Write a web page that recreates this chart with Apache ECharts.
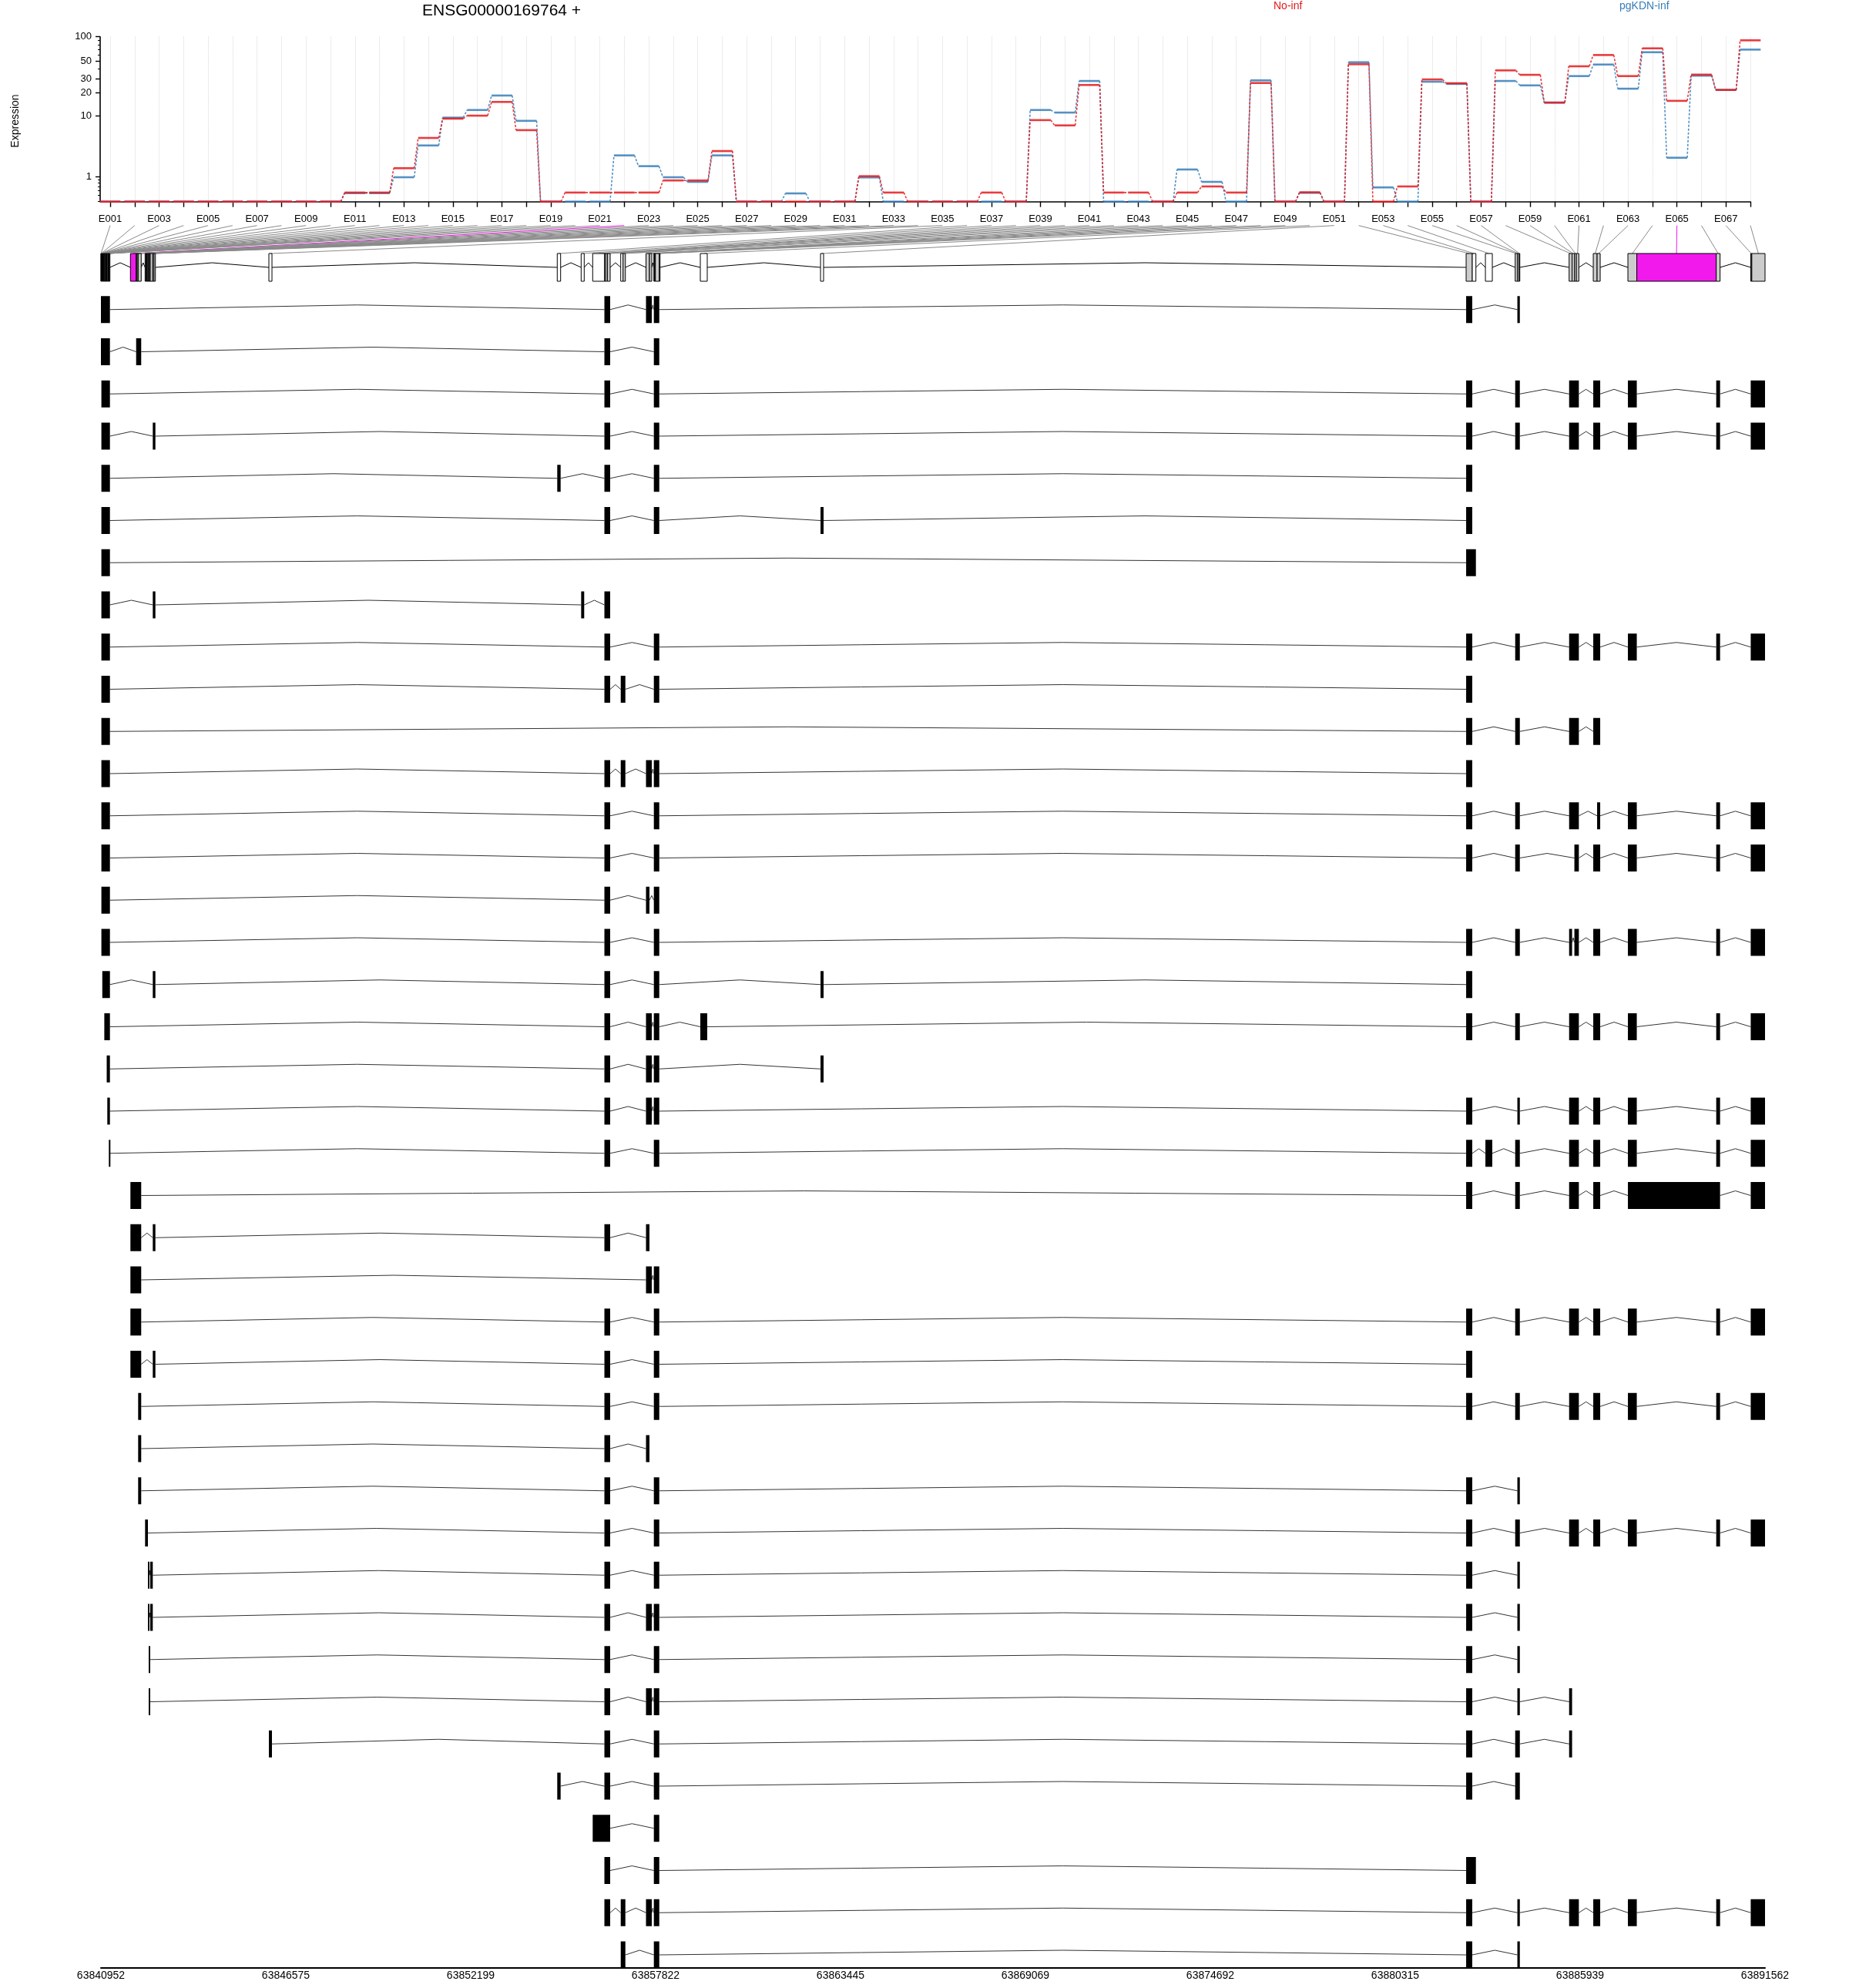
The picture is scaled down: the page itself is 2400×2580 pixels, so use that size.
<!DOCTYPE html>
<html><head><meta charset="utf-8">
<script src="https://cdn.jsdelivr.net/npm/echarts@6/dist/echarts.min.js"></script>
<style>html,body{margin:0;padding:0;background:#fff}#c{width:2400px;height:2580px}</style>
</head><body><div id="c"></div>
<script>
// ---------- DATA ----------
const exonLabels = ['E001','E002','E003','E004','E005','E006','E007','E008','E009','E010',
'E011','E012','E013','E014','E015','E016','E017','E018','E019','E020','E021','E022','E023','E024','E025',
'E026','E027','E028','E029','E030','E031','E032','E033','E034','E035','E036','E037','E038','E039','E040',
'E041','E042','E043','E044','E045','E046','E047','E048','E049','E050','E051','E052','E053','E054','E055',
'E056','E057','E058','E059','E060','E061','E062','E063','E064','E065','E066','E067','E068'];

const noInf = [0,0,0,0,0,0,0,0,0,0,
0.29,0.29,1.55,4.95,9.2,10.1,15.3,6.4,0,0.29,
0.29,0.29,0.29,0.81,0.81,3.12,0,0,0,0,
0,1.04,0.29,0,0,0,0.29,0,8.8,7.45,
25.2,0.29,0.29,0,0.29,0.53,0.29,26.7,0,0.3,
0,45.8,0,0.53,29.6,26.5,0,38.4,33.8,15.0,
43.2,59.6,32.6,72,15.8,34,21.8,90.4];

const pgKDN = [0,0,0,0,0,0,0,0,0,0,
0.27,0.27,0.98,3.82,9.5,12.0,18.5,8.6,0,0,
0,2.65,1.70,0.98,0.74,2.65,0,0,0.26,0,
0,0.97,0,0,0,0,0,0,12.0,11.1,
28.3,0,0,0,1.46,0.74,0,28.8,0,0.28,
0,48.5,0.49,0,27.7,26.0,0,28.3,24.9,15.0,
32.6,45.4,22.6,64.5,2.42,33,21.8,69.5];

// genomic extent of each exonic part
const exonBins = [
[63840952,63840959],[63840959,63840966],[63840966,63840973],[63840973,63840980],[63840980,63840987],
[63840987,63840994],[63840994,63841001],[63841001,63841008],[63841008,63841015],[63841015,63841022],
[63841022,63841029],[63841029,63841036],[63841036,63841055],[63841055,63841086],[63841086,63841107],
[63841107,63841128],[63841128,63841146],[63841146,63841175],[63841175,63841193],[63841193,63841210],
[63841210,63841226],[63841849,63842023],[63842023,63842053],[63842053,63842084],[63842084,63842177],
[63842295,63842323],[63842323,63842351],[63842351,63842381],[63842381,63842405],[63842405,63842428],
[63842428,63842452],[63842452,63842529],[63842529,63842569],[63842569,63842609],[63846060,63846154],
[63854830,63854933],[63855557,63855650],[63855908,63856264],[63856264,63856306],[63856306,63856358],
[63856358,63856440],[63856761,63856831],[63856831,63856902],[63857529,63857635],[63857635,63857705],
[63857768,63857792],[63857792,63857815],[63857815,63857933],[63857933,63857956],[63859181,63859392],
[63862837,63862930],[63882472,63882659],[63882659,63882769],[63883058,63883268],[63883964,63884030],
[63884030,63884077],[63884077,63884105],[63885604,63885694],[63885694,63885764],[63885764,63885822],
[63885822,63885900],[63886338,63886455],[63886455,63886549],[63887392,63887662],[63887662,63890078],
[63890078,63890195],[63891127,63891160],[63891160,63891562]];

// t = tested, n = not tested, s = significant
const binStatus = ['t','t','t','t','t','t','t','t','t','t','t','t',
't','t','t','t','t','n','n','n','n','s','t','t','t',
't','t','t','t','t','t','t','n','n','n','n','n','n',
't','t','t','n','t','t','t','t','t','t','t','n','n',
't','n','n','t','t','t','t','t','t','t','t','t','t','s','t','t','t'];

// transcripts: lists of [first exonic part, last exonic part]
const transcripts = [
[[1,21],[39,41],[44,45],[46,48],[52,52],[56,57]],
[[1,21],[23,25],[39,41],[46,48]],
[[3,21],[39,41],[46,48],[52,52],[55,57],[58,61],[62,63],[64,64],[66,66],[67,68]],
[[3,21],[33,34],[39,41],[46,48],[52,52],[55,57],[58,61],[62,63],[64,64],[66,66],[67,68]],
[[3,21],[36,36],[39,41],[46,48],[52,52]],
[[3,21],[39,41],[46,48],[51,51],[52,52]],
[[3,21],[52,53]],
[[3,21],[33,34],[37,37],[39,41]],
[[3,21],[39,41],[46,48],[52,52],[55,57],[58,61],[62,63],[64,64],[66,66],[67,68]],
[[3,21],[39,41],[42,43],[46,48],[52,52]],
[[3,21],[52,52],[55,57],[58,61],[62,63]],
[[3,21],[39,41],[42,43],[44,45],[46,48],[52,52]],
[[3,21],[39,41],[46,48],[52,52],[55,57],[58,61],[63,63],[64,64],[66,66],[67,68]],
[[3,21],[39,41],[46,48],[52,52],[55,57],[60,61],[62,63],[64,64],[66,66],[67,68]],
[[3,21],[39,41],[44,44],[46,48]],
[[3,21],[39,41],[46,48],[52,52],[55,57],[58,58],[60,61],[62,63],[64,64],[66,66],[67,68]],
[[7,21],[33,34],[39,41],[46,48],[51,51],[52,52]],
[[14,21],[39,41],[44,45],[46,48],[50,50],[52,52],[55,57],[58,61],[62,63],[64,64],[66,66],[67,68]],
[[17,21],[39,41],[44,45],[46,48],[51,51]],
[[18,21],[39,41],[44,45],[46,48],[52,52],[56,57],[58,61],[62,63],[64,64],[66,66],[67,68]],
[[20,21],[39,41],[46,48],[52,52],[54,54],[55,57],[58,61],[62,63],[64,64],[66,66],[67,68]],
[[22,25],[52,52],[55,57],[58,61],[62,63],[64,66],[67,68]],
[[22,25],[33,34],[39,41],[44,44]],
[[22,25],[44,45],[46,48]],
[[22,25],[39,41],[46,48],[52,52],[55,57],[58,61],[62,63],[64,64],[66,66],[67,68]],
[[22,25],[33,34],[39,41],[46,48],[52,52]],
[[25,25],[39,41],[46,48],[52,52],[55,57],[58,61],[62,63],[64,64],[66,66],[67,68]],
[[25,25],[39,41],[44,44]],
[[25,25],[39,41],[46,48],[52,52],[56,57]],
[[26,28],[39,41],[46,48],[52,52],[55,57],[58,61],[62,63],[64,64],[66,66],[67,68]],
[[29,30],[32,32],[39,41],[46,48],[52,52],[56,57]],
[[29,30],[32,32],[39,41],[44,45],[46,48],[52,52],[56,57]],
[[30,31],[39,41],[46,48],[52,52],[56,57]],
[[30,31],[39,41],[44,45],[46,48],[52,52],[56,57],[58,58]],
[[35,35],[39,41],[46,48],[52,52],[55,57],[58,58]],
[[36,36],[39,41],[46,48],[52,52],[55,57]],
[[38,41],[46,48]],
[[39,41],[46,48],[52,53]],
[[39,41],[42,43],[44,45],[46,48],[52,52],[56,57],[58,61],[62,63],[64,64],[66,66],[67,68]],
[[42,43],[46,48],[52,52],[56,57]]
];

const genomicTicks = [63840952,63846575,63852199,63857822,63863445,63869069,63874692,63880315,63885939,63891562];
const yTickLabels = [1,10,20,30,50,100];
const yMinorTicks = [0,0.2,0.37,0.53,0.7,0.86,40,60,70,80,90];
const geneTitle = 'ENSG00000169764 +';
const groupNames = ['No-inf','pgKDN-inf'];

// ---------- CHART ----------
const FONT = 'Liberation Sans';
const RED = '#E41A1C', BLUE = '#377EB8';
const statusCode = {t:0, n:1, s:2};
const statusFill = ['#CCCCCC', '#FFFFFF', '#F219ED'];
const tr = v => Math.log10(v + 1);
const YMAX = Math.log10(101);

function stepData(vals){
  return vals.map((v,i)=>[i+1, tr(v), i < vals.length-1 ? tr(vals[i+1]) : NaN]);
}
function stepRender(color){
  return function(params, api){
    const i = api.value(0), y = api.value(1), yn = api.value(2);
    const a = api.coord([i-0.42, y]), b = api.coord([i+0.42, y]);
    const ch = [{type:'line', shape:{x1:a[0],y1:a[1],x2:b[0],y2:b[1]}, style:{stroke:color, lineWidth:2.6, opacity:0.85}}];
    if (!isNaN(yn)) {
      const c = api.coord([i+1-0.42, yn]);
      ch.push({type:'line', shape:{x1:b[0],y1:b[1],x2:c[0],y2:c[1]}, style:{stroke:color, lineWidth:1.6, lineDash:[3,2], opacity:0.85}});
    }
    return {type:'group', children:ch};
  };
}

// gene model bins and introns
const binData = exonBins.map((b,i)=>[b[0], b[1], 0, statusCode[binStatus[i]]]);
const geneIntrons = [];
for (let i=0;i<exonBins.length-1;i++){
  if (exonBins[i+1][0] > exonBins[i][1]) geneIntrons.push([exonBins[i][1], exonBins[i+1][0], 0]);
}
const txExons = [], txIntrons = [];
transcripts.forEach((t,k)=>{
  const row = k+1;
  const ex = t.map(p=>[exonBins[p[0]-1][0], exonBins[p[1]-1][1]]);
  ex.forEach((e,j)=>{
    txExons.push([e[0], e[1], row]);
    if (j < ex.length-1) txIntrons.push([e[1], ex[j+1][0], row]);
  });
});

function rectRender(fillFn, h, stroke){
  return function(params, api){
    const s = api.value(0), e = api.value(1), r = api.value(2);
    const p1 = api.coord([s, r]), p2 = api.coord([e, r]);
    const w = Math.max(p2[0]-p1[0], stroke ? 0.3 : 2);
    return {type:'rect', shape:{x:p1[0], y:p1[1]-h/2, width:w, height:h},
      style: stroke ? {fill:fillFn(api), stroke:'#000', lineWidth:1} : {fill:fillFn(api)}};
  };
}
function caretRender(h, color){
  return function(params, api){
    const s = api.value(0), e = api.value(1), r = api.value(2);
    const p1 = api.coord([s, r]), p2 = api.coord([e, r]);
    return {type:'polyline', shape:{points:[[p1[0],p1[1]],[(p1[0]+p2[0])/2,p1[1]-h],[p2[0],p2[1]]]},
      style:{stroke:color, lineWidth:1, fill:null}};
  };
}

const chart = echarts.init(document.getElementById('c'), null, {renderer:'canvas'});
const option = {
  animation:false,
  backgroundColor:'#fff',
  textStyle:{fontFamily:FONT},
  title:{text:geneTitle, left:548, top:4, padding:0, textStyle:{fontSize:21, fontWeight:'normal', color:'#000', fontFamily:FONT}},
  graphic:[
    {type:'text', left:1653, top:1, style:{text:groupNames[0], fill:RED, fontSize:14, fontFamily:FONT}},
    {type:'text', left:2102, top:1, style:{text:groupNames[1], fill:BLUE, fontSize:14, fontFamily:FONT}},
    {type:'text', x:20, y:157, rotation:Math.PI/2, style:{text:'Expression', fill:'#000', fontSize:14, fontFamily:FONT, align:'center', verticalAlign:'middle'}}
  ],
  grid:[
    {left:143, right:128, top:47.7, height:214},
    {left:131, right:109, top:319.625, height:2234.375}
  ],
  xAxis:[
    {type:'value', gridIndex:0, min:1, max:68, interval:1, offset:7.5,
     axisLine:{show:true, lineStyle:{color:'#000', width:1.6}},
     axisTick:{show:true, length:7, lineStyle:{color:'#000', width:1.4}},
     axisLabel:{show:true, fontSize:13, color:'#000', margin:9, fontFamily:FONT,
       formatter:v=> (v%2===1) ? exonLabels[v-1] : ''},
     splitLine:{show:true, lineStyle:{type:'dotted', color:'#d9d9d9', width:1}}},
    {type:'value', gridIndex:1, min:genomicTicks[0], max:genomicTicks[genomicTicks.length-1],
     axisLine:{show:true, onZero:false, lineStyle:{color:'#000', width:2}},
     axisTick:{show:false},
     axisLabel:{show:true, customValues:genomicTicks, fontSize:14, color:'#000', margin:3, fontFamily:FONT,
       formatter:v=>String(Math.round(v))},
     splitLine:{show:false}}
  ],
  yAxis:[
    {type:'value', gridIndex:0, position:'left', min:0, max:YMAX, offset:13,
     axisLine:{show:true, lineStyle:{color:'#000', width:1.6}},
     axisTick:{show:true, length:6, customValues:yTickLabels.map(tr), lineStyle:{color:'#000', width:1.4}},
     axisLabel:{show:true, customValues:yTickLabels.map(tr), fontSize:13, color:'#000', margin:11, fontFamily:FONT,
       formatter:v=>String(Math.round(Math.pow(10,v)-1))},
     splitLine:{show:false}},
    {type:'value', gridIndex:0, position:'left', min:0, max:YMAX, offset:13,
     axisLine:{show:false},
     axisTick:{show:true, length:3, customValues:yMinorTicks.map(tr), lineStyle:{color:'#000', width:1}},
     axisLabel:{show:false}, splitLine:{show:false}},
    {type:'value', gridIndex:1, min:-0.5, max:40.3105, inverse:true, show:false}
  ],
  series:[
    {id:'fan', type:'custom', coordinateSystem:'none', data:[], z:1, silent:true,
     renderItem:(params, api)=>({type:'line', shape:{x1:api.value(0), y1:api.value(1), x2:api.value(2), y2:api.value(3)},
       style:{stroke: api.value(4)===2 ? '#F219ED' : '#8a8a8a', lineWidth:1}})},
    {type:'custom', xAxisIndex:0, yAxisIndex:0, clip:false, z:3, data:stepData(pgKDN), renderItem:stepRender(BLUE)},
    {type:'custom', xAxisIndex:0, yAxisIndex:0, clip:false, z:4, data:stepData(noInf), renderItem:stepRender(RED)},
    {type:'custom', xAxisIndex:1, yAxisIndex:2, z:2, data:geneIntrons, renderItem:caretRender(6, '#000')},
    {type:'custom', xAxisIndex:1, yAxisIndex:2, z:3, data:binData,
     renderItem:rectRender(api=>statusFill[api.value(3)], 36, true)},
    {type:'custom', xAxisIndex:1, yAxisIndex:2, z:2, data:txIntrons, renderItem:caretRender(6, '#333')},
    {type:'custom', xAxisIndex:1, yAxisIndex:2, z:3, data:txExons,
     renderItem:rectRender(()=> '#000', 35, false)}
  ]
};
chart.setOption(option);

// connectors from exon labels to exonic parts (positions from the axes' scales)
const fan = exonBins.map((b,i)=>{
  const top = chart.convertToPixel({xAxisIndex:0, yAxisIndex:0}, [i+1, 0]);
  const bot = chart.convertToPixel({xAxisIndex:1, yAxisIndex:2}, [(b[0]+b[1])/2, 0]);
  return [top[0], top[1] + 31, bot[0], bot[1] - 18, statusCode[binStatus[i]]];
});
chart.setOption({series:[{id:'fan', data:fan}]});
</script>
</body></html>
